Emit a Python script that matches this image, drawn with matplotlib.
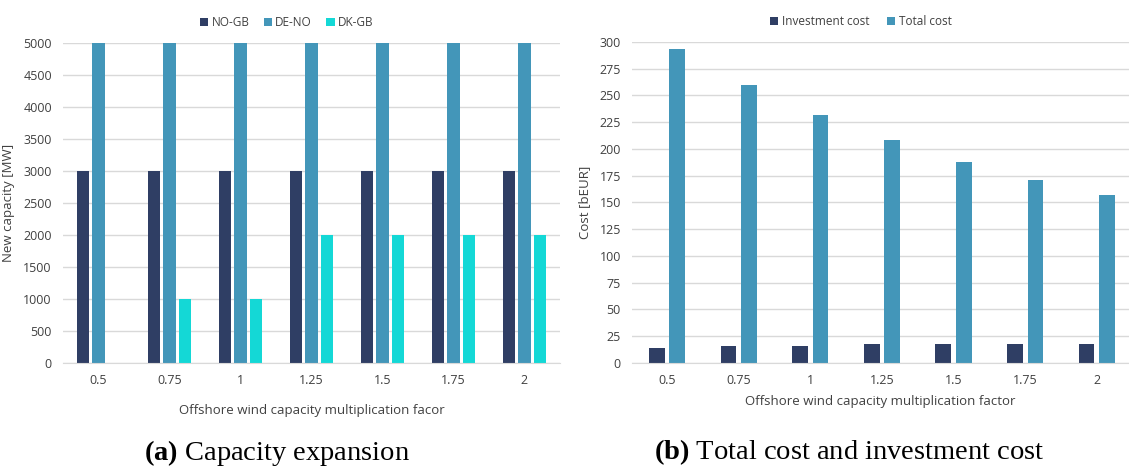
import numpy as np
import matplotlib.pyplot as plt

plt.rcParams['font.family'] = ['Open Sans', 'DejaVu Sans']
plt.rcParams['mathtext.fontset'] = 'custom'
plt.rcParams['mathtext.rm'] = 'Liberation Serif'
plt.rcParams['mathtext.bf'] = 'Liberation Serif:bold'

factors = ['0.5', '0.75', '1', '1.25', '1.5', '1.75', '2']

# new transmission capacity per corridor [MW]
no_gb = [3000, 3000, 3000, 3000, 3000, 3000, 3000]
de_no = [5000, 5000, 5000, 5000, 5000, 5000, 5000]
dk_gb = [0, 1000, 1000, 2000, 2000, 2000, 2000]

# system costs [bEUR]
invest_cost = [14, 15.5, 15.5, 17.5, 17.5, 17.5, 17.5]
total_cost = [293, 260, 232, 208, 188, 171, 157]

navy = '#2F3E64'
blue = '#4396B9'
cyan = '#14D8D6'
grid_c = '#D9D9D9'
txt_c = '#404040'

fig = plt.figure(figsize=(11.29, 4.67), dpi=100)
ax1 = fig.add_axes([0.0558, 0.2227, 0.4402, 0.6853])
ax2 = fig.add_axes([0.5598, 0.2227, 0.4402, 0.6874])

x = np.arange(len(factors))


def style(ax):
    for s in ['top', 'right', 'left']:
        ax.spines[s].set_visible(False)
    ax.spines['bottom'].set_color(grid_c)
    ax.grid(axis='y', color=grid_c, lw=1)
    ax.set_axisbelow(True)
    ax.tick_params(length=0, labelsize=9, colors=txt_c, pad=8)
    ax.set_xticks(x)
    ax.set_xticklabels(factors)


# (a) capacity expansion
w = 0.17
step = 0.218
ax1.bar(x - step, no_gb, w, color=navy, label='NO-GB')
ax1.bar(x, de_no, w, color=blue, label='DE-NO')
ax1.bar(x + step, dk_gb, w, color=cyan, label='DK-GB')
style(ax1)
ax1.set_xlim(-0.5, 6.5)
ax1.set_ylim(0, 5000)
ax1.set_yticks(np.arange(0, 5001, 500))
ax1.set_ylabel('New capacity [MW]', fontsize=9.5, color=txt_c, labelpad=6)
ax1.set_xlabel('Offshore wind capacity multiplication facor', fontsize=9.5,
               color=txt_c, labelpad=12)
ax1.legend(loc='lower center', bbox_to_anchor=(0.45, 1.01), ncol=3, frameon=False,
           fontsize=8.5, handlelength=0.7, handleheight=0.7, handletextpad=0.3,
           columnspacing=1.2, labelcolor=txt_c)

# (b) total and investment cost
w2 = 0.22
off = 0.143
ax2.bar(x - off, invest_cost, w2, color=navy, label='Investment cost')
ax2.bar(x + off, total_cost, w2, color=blue, label='Total cost')
style(ax2)
ax2.set_xlim(-0.49, 6.45)
ax2.set_ylim(0, 300)
ax2.set_yticks(np.arange(0, 301, 25))
ax2.set_ylabel('Cost [bEUR]', fontsize=9.5, color=txt_c, labelpad=6)
ax2.set_xlabel('Offshore wind capacity multiplication factor', fontsize=9.5,
               color=txt_c, labelpad=6)
ax2.legend(loc='lower center', bbox_to_anchor=(0.46, 1.01), ncol=2, frameon=False,
           fontsize=8.5, handlelength=0.7, handleheight=0.7, handletextpad=0.3,
           columnspacing=1.5, labelcolor=txt_c)

# sub-figure captions
fig.text(0.245, 0.016, r'$\mathbf{(a)}$ Capacity expansion', fontsize=20.5,
         family='Liberation Serif', ha='center', va='baseline')
fig.text(0.752, 0.016, r'$\mathbf{(b)}$ Total cost and investment cost', fontsize=20.5,
         family='Liberation Serif', ha='center', va='baseline')

fig.savefig('out.png', dpi=100)
